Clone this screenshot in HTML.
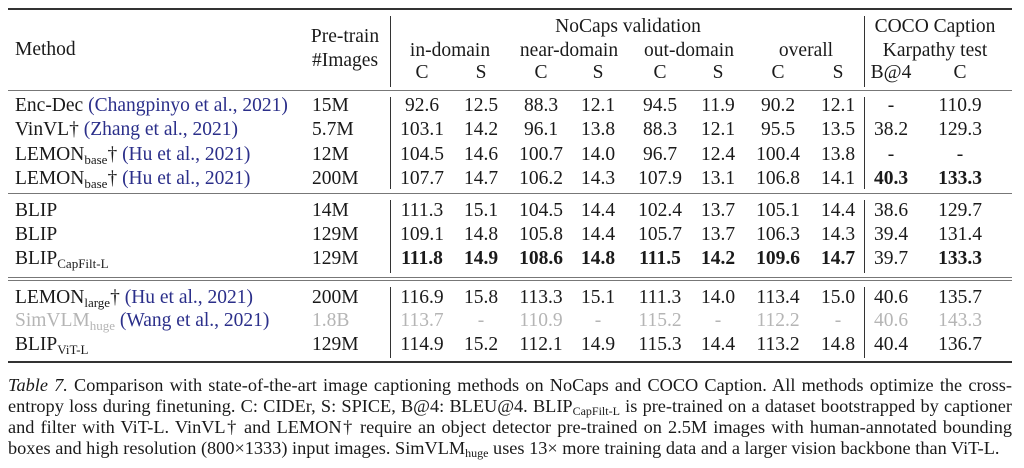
<!DOCTYPE html>
<html><head><meta charset="utf-8"><style>
body{margin:0;background:#fff;width:1024px;height:468px;position:relative;overflow:hidden;font-family:"Liberation Serif",serif;color:#1a1a1a}
.t{position:absolute;font-size:19.5px;line-height:19px;white-space:nowrap}
.c{transform:translateX(-50%)}
.b{font-weight:bold}
.g{color:#b5b5b5}
.l{color:#2b2f8a}
sub{font-size:13px;vertical-align:-4px;line-height:0}
.h{position:absolute;left:8px;width:1004px;background:#333}
.v{position:absolute;width:1px;background:#333}
.cap{position:absolute;left:8px;width:1004px;font-size:18.3px;line-height:17px;text-align:justify;text-align-last:justify;white-space:nowrap}
.cap sub{font-size:12px;vertical-align:-3px}
</style></head><body>
<div class="h" style="top:8px;height:2px"></div>
<div class="h" style="top:90px;height:1px;background:#777"></div>
<div class="h" style="top:193px;height:1px;background:#777"></div>
<div class="h" style="top:277px;height:1px;background:#777"></div>
<div class="h" style="top:280px;height:1px;background:#777"></div>
<div class="h" style="top:361px;height:2px"></div>
<div class="v" style="left:390px;top:16px;height:71px"></div>
<div class="v" style="left:390px;top:97px;height:92px"></div>
<div class="v" style="left:390px;top:200px;height:73px"></div>
<div class="v" style="left:390px;top:287px;height:71px"></div>
<div class="v" style="left:864px;top:16px;height:71px"></div>
<div class="v" style="left:864px;top:97px;height:92px"></div>
<div class="v" style="left:864px;top:200px;height:73px"></div>
<div class="v" style="left:864px;top:287px;height:71px"></div>
<div id="cells"></div>
<div class="t" style="left:15px;top:40px">Method</div>
<div class="t c" style="left:345px;top:27px">Pre-train</div>
<div class="t c" style="left:345px;top:51px">#Images</div>
<div class="t c" style="left:628px;top:17px">NoCaps validation</div>
<div class="t c" style="left:450px;top:41px">in-domain</div>
<div class="t c" style="left:569px;top:41px">near-domain</div>
<div class="t c" style="left:689px;top:41px">out-domain</div>
<div class="t c" style="left:806px;top:41px">overall</div>
<div class="t c" style="left:935px;top:17px">COCO Caption</div>
<div class="t c" style="left:935px;top:41px">Karpathy test</div>
<script>
var xs=[422,481,541,598,660,718,778,838,891,960];
var hdr=["C","S","C","S","C","S","C","S","B@4","C"];
var H='';
hdr.forEach(function(s,i){H+='<div class="t c" style="left:'+xs[i]+'px;top:63px">'+s+'</div>';});
var rows=[
[96,'Enc-Dec <span class="l">(Changpinyo et al., 2021)</span>','15M',"92.6 12.5 88.3 12.1 94.5 11.9 90.2 12.1 - 110.9",''],
[120,'VinVL† <span class="l">(Zhang et al., 2021)</span>','5.7M',"103.1 14.2 96.1 13.8 88.3 12.1 95.5 13.5 38.2 129.3",''],
[145,'LEMON<sub>base</sub>† <span class="l">(Hu et al., 2021)</span>','12M',"104.5 14.6 100.7 14.0 96.7 12.4 100.4 13.8 - -",''],
[169,'LEMON<sub>base</sub>† <span class="l">(Hu et al., 2021)</span>','200M',"107.7 14.7 106.2 14.3 107.9 13.1 106.8 14.1 40.3 133.3",'0000000011'],
[201,'BLIP','14M',"111.3 15.1 104.5 14.4 102.4 13.7 105.1 14.4 38.6 129.7",''],
[225,'BLIP','129M',"109.1 14.8 105.8 14.4 105.7 13.7 106.3 14.3 39.4 131.4",''],
[249,'BLIP<sub>CapFilt-L</sub>','129M',"111.8 14.9 108.6 14.8 111.5 14.2 109.6 14.7 39.7 133.3",'1111111101'],
[288,'LEMON<sub>large</sub>† <span class="l">(Hu et al., 2021)</span>','200M',"116.9 15.8 113.3 15.1 111.3 14.0 113.4 15.0 40.6 135.7",''],
[311,'<span class="g">SimVLM<sub>huge</sub></span> <span class="l">(Wang et al., 2021)</span>','<span class="g">1.8B</span>',"113.7 - 110.9 - 115.2 - 112.2 - 40.6 143.3",'g'],
[335,'BLIP<sub>ViT-L</sub>','129M',"114.9 15.2 112.1 14.9 115.3 14.4 113.2 14.8 40.4 136.7",'']
];
rows.forEach(function(r){
 H+='<div class="t" style="left:15px;top:'+r[0]+'px">'+r[1]+'</div>';
 H+='<div class="t" style="left:312px;top:'+r[0]+'px">'+r[2]+'</div>';
 r[3].split(' ').forEach(function(v,i){
  var cl='t c';
  if(r[4]=='g')cl+=' g'; else if(r[4][i]=='1')cl+=' b';
  H+='<div class="'+cl+'" style="left:'+xs[i]+'px;top:'+r[0]+'px">'+v+'</div>';
 });
});
document.getElementById('cells').innerHTML=H;
</script>
<div class="cap" style="top:377px"><i>Table 7.</i> Comparison with state-of-the-art image captioning methods on NoCaps and COCO Caption. All methods optimize the cross-</div>
<div class="cap" style="top:398px">entropy loss during finetuning. C: CIDEr, S: SPICE, B@4: BLEU@4. BLIP<sub>CapFilt-L</sub> is pre-trained on a dataset bootstrapped by captioner</div>
<div class="cap" style="top:419px">and filter with ViT-L. VinVL† and LEMON† require an object detector pre-trained on 2.5M images with human-annotated bounding</div>
<div class="cap" style="top:440px;text-align:left;text-align-last:left">boxes and high resolution (800×1333) input images. SimVLM<sub>huge</sub> uses 13× more training data and a larger vision backbone than ViT-L.</div>
</body></html>
